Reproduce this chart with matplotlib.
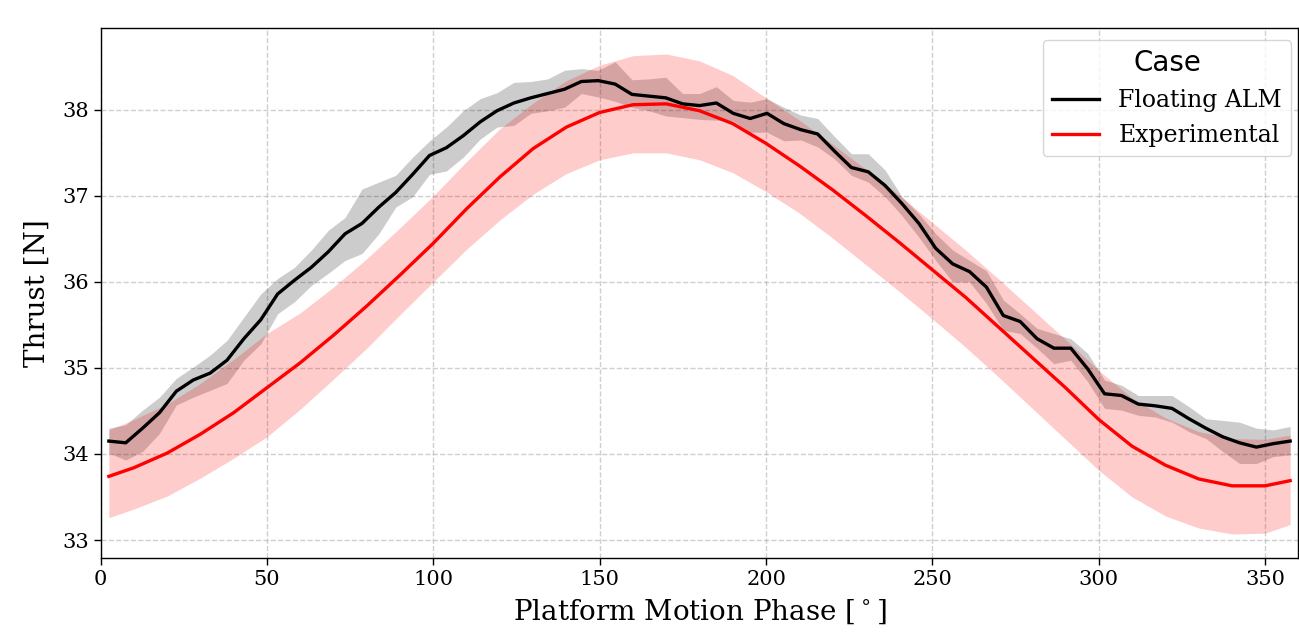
"""Thrust over one platform motion cycle: floating ALM vs experiment.

Writes out.png with the phase-averaged thrust of both cases and their
spread bands.

Run: python plot.py
"""
import matplotlib
matplotlib.use("Agg")
import matplotlib.pyplot as plt
import numpy as np

OUT_PATH = "out.png"

# Floating ALM: phase-binned mean with band limits (71 bins, 2.5..357.5 deg)
ALM_PHASE = np.linspace(2.5, 357.5, 71)
ALM_MEAN = [
    34.15, 34.13, 34.30, 34.48, 34.73, 34.86, 34.94, 35.09, 35.34, 35.56,
    35.86, 36.02, 36.17, 36.35, 36.56, 36.68, 36.87, 37.04, 37.25, 37.47,
    37.56, 37.70, 37.86, 37.99, 38.08, 38.14, 38.19, 38.24, 38.33, 38.34,
    38.30, 38.18, 38.16, 38.14, 38.07, 38.05, 38.08, 37.96, 37.90, 37.96,
    37.84, 37.77, 37.72, 37.52, 37.33, 37.28, 37.12, 36.91, 36.68, 36.39,
    36.21, 36.12, 35.94, 35.61, 35.54, 35.34, 35.23, 35.23, 34.99, 34.70,
    34.68, 34.58, 34.56, 34.53, 34.41, 34.30, 34.20, 34.13, 34.08, 34.12,
    34.15,
]
ALM_LO = [
    34.01, 33.93, 34.03, 34.24, 34.57, 34.66, 34.74, 34.82, 35.09, 35.28,
    35.63, 35.77, 35.96, 36.10, 36.25, 36.33, 36.56, 36.87, 36.99, 37.25,
    37.29, 37.45, 37.66, 37.80, 37.82, 37.96, 37.99, 38.03, 38.19, 38.15,
    38.10, 38.03, 37.99, 37.93, 37.91, 37.89, 37.88, 37.87, 37.74, 37.74,
    37.64, 37.65, 37.57, 37.43, 37.24, 37.16, 36.99, 36.77, 36.52, 36.25,
    36.00, 36.00, 35.75, 35.44, 35.40, 35.23, 35.05, 35.09, 34.84, 34.53,
    34.51, 34.45, 34.43, 34.37, 34.26, 34.18, 34.03, 33.89, 33.89, 33.97,
    33.99,
]
ALM_HI = [
    34.30, 34.34, 34.51, 34.66, 34.88, 35.01, 35.15, 35.32, 35.59, 35.86,
    36.04, 36.17, 36.37, 36.60, 36.75, 37.08, 37.16, 37.24, 37.45, 37.64,
    37.80, 37.99, 38.13, 38.20, 38.32, 38.33, 38.36, 38.46, 38.48, 38.46,
    38.56, 38.35, 38.36, 38.38, 38.19, 38.19, 38.27, 38.11, 38.09, 38.13,
    38.03, 37.94, 37.90, 37.69, 37.49, 37.49, 37.30, 36.99, 36.79, 36.56,
    36.37, 36.25, 36.13, 35.79, 35.63, 35.46, 35.40, 35.34, 35.17, 34.86,
    34.80, 34.68, 34.68, 34.68, 34.55, 34.41, 34.39, 34.37, 34.30, 34.28,
    34.32,
]

# Experimental: smooth phase-averaged thrust and its band limits
EXP_PHASE = [2.5, 10, 20, 30, 40, 50, 60, 70, 80, 90, 100, 110, 120, 130,
             140, 150, 160, 170, 180, 190, 200, 210, 220, 230, 240, 250,
             260, 270, 280, 290, 300, 310, 320, 330, 340, 350, 357.5]
EXP_MEAN = [33.74, 33.84, 34.01, 34.23, 34.48, 34.77, 35.06, 35.38, 35.72,
            36.08, 36.45, 36.85, 37.22, 37.55, 37.80, 37.97, 38.06, 38.07,
            37.99, 37.84, 37.61, 37.35, 37.07, 36.77, 36.46, 36.14, 35.82,
            35.47, 35.12, 34.77, 34.40, 34.09, 33.87, 33.71, 33.63, 33.63,
            33.69]
EXP_LO = [33.26, 33.36, 33.51, 33.72, 33.95, 34.20, 34.52, 34.87, 35.23,
          35.62, 36.00, 36.38, 36.72, 37.02, 37.26, 37.42, 37.50, 37.50,
          37.42, 37.27, 37.05, 36.80, 36.51, 36.20, 35.89, 35.57, 35.24,
          34.89, 34.53, 34.17, 33.81, 33.50, 33.28, 33.14, 33.07, 33.08,
          33.18]
EXP_HI = [34.28, 34.40, 34.58, 34.82, 35.10, 35.40, 35.64, 35.94, 36.27,
          36.63, 37.00, 37.40, 37.78, 38.08, 38.34, 38.52, 38.63, 38.65,
          38.57, 38.40, 38.14, 37.88, 37.60, 37.31, 37.01, 36.69, 36.37,
          36.03, 35.68, 35.33, 34.97, 34.65, 34.42, 34.26, 34.18, 34.17,
          34.22]

SERIF = "DejaVu Serif"


def main() -> None:
    fig = plt.figure(figsize=(12.99, 6.40), dpi=100)
    ax = fig.add_axes([0.0774, 0.128, 0.9222, 0.828])

    ax.fill_between(ALM_PHASE, ALM_LO, ALM_HI, color="black", alpha=0.2, lw=0)
    ax.plot(ALM_PHASE, ALM_MEAN, color="black", lw=2.4, label="Floating ALM")

    ax.fill_between(EXP_PHASE, EXP_LO, EXP_HI, color="red", alpha=0.2, lw=0)
    ax.plot(EXP_PHASE, EXP_MEAN, color="red", lw=2.4, label="Experimental")

    ax.set_xlim(0, 360)
    ax.set_ylim(32.79, 38.95)
    ax.set_xticks([0, 50, 100, 150, 200, 250, 300, 350])
    ax.set_yticks([33, 34, 35, 36, 37, 38])
    ax.grid(True, linestyle="--", color="#b0b0b0", alpha=0.6, lw=1)
    ax.set_axisbelow(True)

    for lbl in ax.get_xticklabels() + ax.get_yticklabels():
        lbl.set_fontfamily(SERIF)
        lbl.set_fontsize(15)
    ax.tick_params(length=5, width=1)
    for spine in ax.spines.values():
        spine.set_linewidth(1)

    ax.set_xlabel("Platform Motion Phase [$^\\circ$]", fontfamily=SERIF,
                  fontsize=20, labelpad=6)
    ax.set_ylabel("Thrust [N]", fontfamily=SERIF, fontsize=20, labelpad=8)

    leg = ax.legend(title="Case", loc="upper right",
                    bbox_to_anchor=(1.004, 1.0),
                    prop={"family": SERIF, "size": 17},
                    title_fontproperties={"family": "DejaVu Sans", "size": 20},
                    handlelength=2.0, borderpad=0.4)
    leg.get_frame().set_edgecolor("#cccccc")

    fig.savefig(OUT_PATH, dpi=100)


if __name__ == "__main__":
    main()
